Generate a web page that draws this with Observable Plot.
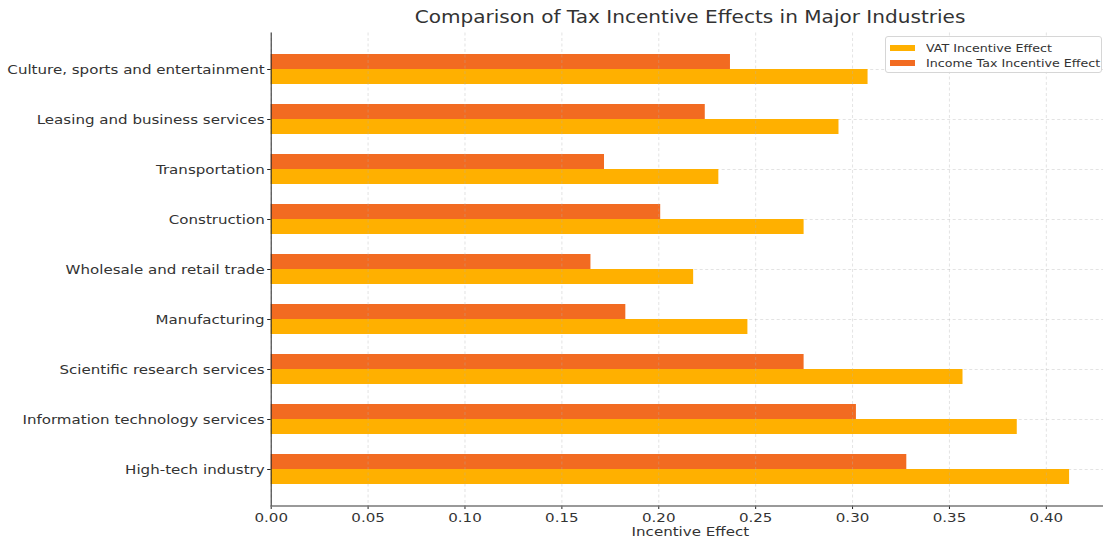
<!DOCTYPE html>
<html>
<head>
<meta charset="utf-8">
<script src="https://cdn.jsdelivr.net/npm/d3@7"></script>
<script src="https://cdn.jsdelivr.net/npm/@observablehq/plot@0.6"></script>
<style>
  html, body { margin: 0; padding: 0; background: white; overflow: hidden; }
  body { width: 1103px; height: 541px; position: relative; font-family: "DejaVu Sans", sans-serif; }
  #title { position: absolute; left: 690px; top: 7px; transform: translateX(-50%) scaleX(1.18); font-size: 17px; color: #333; white-space: nowrap; }
  #chart { position: absolute; left: 0; top: 30px; }
  #legend { position: absolute; left: 885px; top: 36px; width: 215px; height: 35px; border: 1px solid #d6d6d6; border-radius: 3px; background: rgba(255,255,255,0.85); font-size: 11px; color: #333; }
  .item { position: absolute; left: 4px; height: 14px; display: flex; align-items: center; white-space: nowrap; }
  .sw { width: 25px; height: 6px; margin-right: 11px; flex: none; }
  .lbl { display: inline-block; transform: scaleX(1.15); transform-origin: left center; }
</style>
</head>
<body>
<div id="title"></div>
<div id="chart"></div>
<div id="legend"></div>
<script>
const industries = [
  "Culture, sports and entertainment",
  "Leasing and business services",
  "Transportation",
  "Construction",
  "Wholesale and retail trade",
  "Manufacturing",
  "Scientific research services",
  "Information technology services",
  "High-tech industry"
];
const vatEffect = [0.308, 0.293, 0.231, 0.275, 0.218, 0.246, 0.357, 0.385, 0.412];
const incomeTaxEffect = [0.237, 0.224, 0.172, 0.201, 0.165, 0.183, 0.275, 0.302, 0.328];
const seriesNames = ["VAT Incentive Effect", "Income Tax Incentive Effect"];
const seriesColors = ["#FFB000", "#F26B21"];
const xTicks = [0, 0.05, 0.10, 0.15, 0.20, 0.25, 0.30, 0.35, 0.40];
const titleText = "Comparison of Tax Incentive Effects in Major Industries";
const xLabel = "Incentive Effect";

const data = industries.map((name, i) => ({industry: name, vat: vatEffect[i], income: incomeTaxEffect[i]}));

document.getElementById("title").textContent = titleText;

const gridStyle = {stroke: "#b0b0b0", strokeOpacity: 0.45, strokeDasharray: "3,2.5", strokeWidth: 0.8};

const chart = Plot.plot({
  width: 1103,
  height: 511,
  marginLeft: 270.7,
  marginRight: 0,
  marginTop: 2.5,
  marginBottom: 35.5,
  style: {fontFamily: "DejaVu Sans", fontSize: "13px", color: "#333", background: "white"},
  x: {domain: [0, 0.4295], axis: null},
  y: {domain: industries, paddingInner: 0.4, paddingOuter: 0.43, align: 0.5, axis: null},
  marks: [
    Plot.gridY(industries, {...gridStyle}),
    Plot.barX(data, {x: "income", y: "industry", fill: seriesColors[1], insetBottom: 15, insetTop: 0}),
    Plot.barX(data, {x: "vat", y: "industry", fill: seriesColors[0], insetTop: 15, insetBottom: 0}),
    Plot.gridX(xTicks, {...gridStyle}),
    Plot.axisX(xTicks, {tickFormat: d3.format(".2f"), tickSize: 3.5, tickPadding: 3, stroke: "#222", fill: "#333", label: null, fontSize: 13}),
    Plot.axisY(industries, {tickSize: 3.5, tickPadding: 3, stroke: "#222", fill: "#333", label: null, fontSize: 13}),
    Plot.frame({anchor: "bottom", stroke: "#777", strokeWidth: 1.6}),
    Plot.ruleX([0], {stroke: "#222", strokeWidth: 1}),
    Plot.text([xLabel], {frameAnchor: "bottom", dy: 30, dx: 3, fill: "#333", fontSize: 13})
  ]
});
document.getElementById("chart").appendChild(chart);

// Widen glyphs horizontally (the reference's text is stretched), anchored at each label's anchor
const stretch = 1.16;
chart.querySelectorAll("text").forEach(el => {
  const b = el.getBBox();
  const anchor = getComputedStyle(el).textAnchor;
  const ax = anchor === "end" ? b.x + b.width : anchor === "middle" ? b.x + b.width / 2 : b.x;
  const t = el.getAttribute("transform") || "";
  el.setAttribute("transform", `${t} translate(${ax},0) scale(${stretch},1) translate(${-ax},0)`.trim());
});

const legend = document.getElementById("legend");
seriesNames.forEach((name, i) => {
  const item = document.createElement("div");
  item.className = "item";
  item.style.top = (i === 0 ? 4 : 19) + "px";
  const sw = document.createElement("div");
  sw.className = "sw";
  sw.style.background = seriesColors[i];
  const label = document.createElement("span");
  label.className = "lbl";
  label.textContent = name;
  item.appendChild(sw);
  item.appendChild(label);
  legend.appendChild(item);
});
</script>
</body>
</html>
